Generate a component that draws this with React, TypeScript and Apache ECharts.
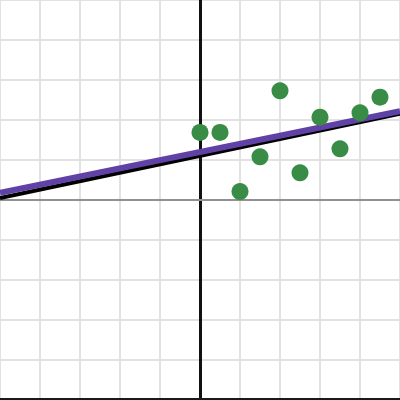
import React, { useEffect, useRef } from "react";
import * as echarts from "echarts";

const pointsX = [0, 0.5, 1, 1.5, 2, 2.5, 3, 3.5, 4, 4.5];
const pointsY = [1.69, 1.69, 0.21, 1.08, 2.73, 0.68, 2.07, 1.28, 2.18, 2.57];
const blackLineX = [-5, 5];
const blackLineY = [0.05, 2.16];
const purpleLineX = [-5, 5];
const purpleLineY = [0.18, 2.22];

export default function App() {
  const ref = useRef<HTMLDivElement>(null);
  useEffect(() => {
    document.body.style.margin = "0";
    const chart = echarts.init(ref.current!, undefined, { renderer: "svg" });
    chart.setOption({
      animation: false,
      backgroundColor: "#ffffff",
      grid: { left: 0, right: 0, top: 0, bottom: 0, containLabel: false },
      xAxis: {
        type: "value",
        min: -5,
        max: 5,
        interval: 1,
        axisLabel: { show: false },
        axisTick: { show: false },
        axisLine: { show: true, onZero: true, lineStyle: { color: "#909090", width: 2 } },
        splitLine: { show: true, lineStyle: { color: "#e2e2e2", width: 2 } },
      },
      yAxis: {
        type: "value",
        min: -5,
        max: 5,
        interval: 1,
        axisLabel: { show: false },
        axisTick: { show: false },
        axisLine: { show: true, onZero: true, lineStyle: { color: "#111111", width: 3 } },
        splitLine: { show: true, lineStyle: { color: "#e2e2e2", width: 2 } },
      },
      graphic: [
        { type: "rect", shape: { x: 0, y: 398, width: 400, height: 2 }, style: { fill: "#1a1a1a" }, z: 100 },
      ],
      series: [
        {
          type: "line",
          data: blackLineX.map((x, i) => [x, blackLineY[i]]),
          symbol: "none",
          lineStyle: { color: "#000000", width: 4 },
          z: 3,
        },
        {
          type: "line",
          data: purpleLineX.map((x, i) => [x, purpleLineY[i]]),
          symbol: "none",
          lineStyle: { color: "#6042a6", width: 6 },
          z: 4,
        },
        {
          type: "scatter",
          data: pointsX.map((x, i) => [x, pointsY[i]]),
          symbol: "circle",
          symbolSize: 17,
          itemStyle: { color: "#388c46", opacity: 1 },
          z: 5,
        },
      ],
    });
    return () => chart.dispose();
  }, []);
  return <div ref={ref} style={{ width: 400, height: 400 }} />;
}
